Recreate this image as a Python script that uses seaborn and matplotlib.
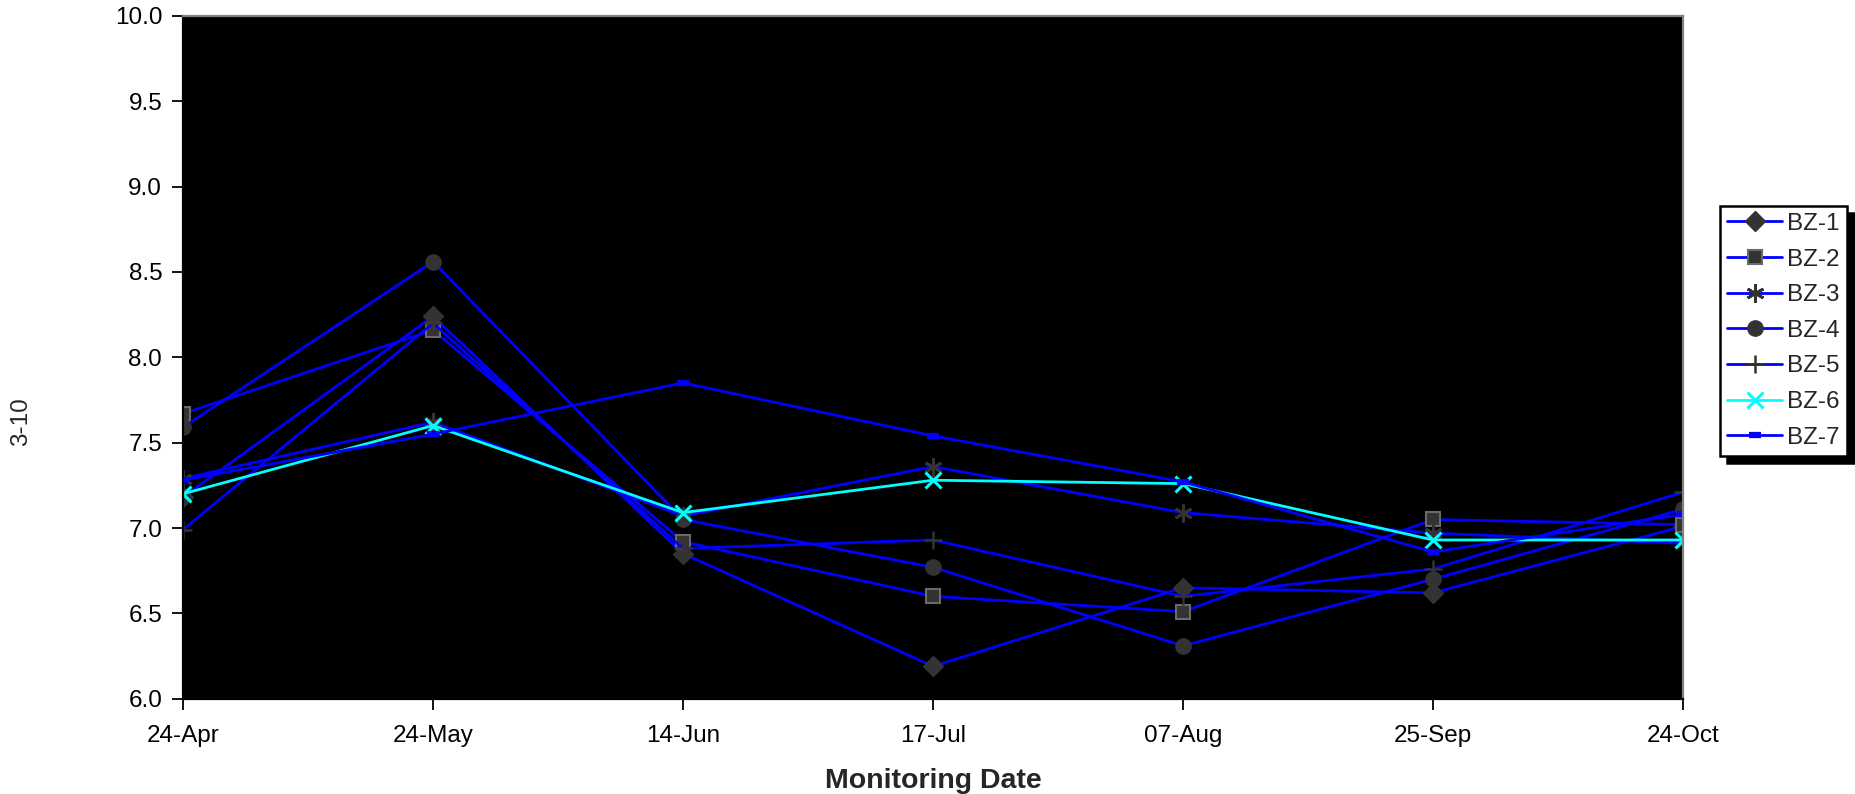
import pandas as pd
import numpy as np
import seaborn as sns
import matplotlib.pyplot as plt

# datos
fechas = ['24-Apr', '24-May', '14-Jun', '17-Jul', '07-Aug', '25-Sep', '24-Oct']
bz1 = [7.18, 8.24, 6.85, 6.19, 6.65, 6.62, 7.01]
bz2 = [7.67, 8.16, 6.92, 6.60, 6.51, 7.05, 7.02]
bz3 = [7.29, 7.62, 7.07, 7.36, 7.09, 6.97, 6.91]
bz4 = [7.59, 8.56, 7.05, 6.77, 6.31, 6.70, 7.11]
bz5 = [6.99, 8.20, 6.88, 6.93, 6.60, 6.76, 7.21]
bz6 = [7.20, 7.60, 7.09, 7.28, 7.26, 6.93, 6.93]
bz7 = [7.28, 7.55, 7.85, 7.54, 7.27, 6.86, 7.08]

series = {'BZ-1': bz1, 'BZ-2': bz2, 'BZ-3': bz3, 'BZ-4': bz4,
          'BZ-5': bz5, 'BZ-6': bz6, 'BZ-7': bz7}

sns.set_theme(style='ticks')
plt.rcParams['font.family'] = ['Liberation Sans', 'DejaVu Sans']

fig = plt.figure(figsize=(18.56, 7.94), dpi=100)
ax = fig.add_axes([0.0986, 0.120, 0.8082, 0.860])
ax.set_facecolor('black')

gris = '#333333'
estilos = {
    'BZ-1': dict(color='blue', marker='D', markersize=10, mfc=gris, mec=gris),
    'BZ-2': dict(color='blue', marker='s', markersize=10, mfc=gris, mec='#6a6a6a', mew=1.5),
    'BZ-3': dict(color='blue', marker=(6, 2, 0), markersize=13, mfc=gris, mec=gris, mew=2),
    'BZ-4': dict(color='blue', marker='o', markersize=11, mfc=gris, mec=gris),
    'BZ-5': dict(color='blue', marker='+', markersize=13, mfc=gris, mec=gris, mew=1.8),
    'BZ-6': dict(color='cyan', marker='x', markersize=12, mfc='cyan', mec='cyan', mew=2.2),
    'BZ-7': dict(color='blue', marker='_', markersize=8, mfc='blue', mec='blue', mew=4.5),
}

for nombre, valores in series.items():
    df = pd.DataFrame({'fecha': fechas, 'valor': valores})
    st = estilos[nombre]
    sns.lineplot(data=df, x='fecha', y='valor', sort=False, ax=ax, color=st['color'],
                 linewidth=2.0, marker=st['marker'], markersize=st['markersize'],
                 markerfacecolor=st['mfc'], markeredgecolor=st['mec'],
                 markeredgewidth=st.get('mew', 1), label=nombre)

ax.set_xlim(0, 6)
ax.set_ylim(6, 10)
ax.set_yticks(np.arange(6, 10.01, 0.5))
ax.set_yticklabels(['%.1f' % v for v in np.arange(6, 10.01, 0.5)])
ax.tick_params(axis='y', direction='out', length=8, width=1.3, colors='black',
               labelsize=17.5, pad=7)
ax.tick_params(axis='x', direction='out', length=8, width=1.3, colors='black',
               labelsize=17.5, pad=11)

for lado in ['left', 'bottom']:
    ax.spines[lado].set_color('black')
for lado in ['top', 'right']:
    ax.spines[lado].set_color('#808080')
for s in ax.spines.values():
    s.set_linewidth(1.6)

ax.set_xlabel('Monitoring Date', fontsize=20.5, fontweight='bold', labelpad=15)
ax.set_ylabel('')
fig.text(21 / 1856, 1 - 422 / 794, '3-10', rotation=90, fontsize=17.5,
         ha='center', va='center')

leg = ax.legend(loc='upper left', bbox_to_anchor=(0.9267, 0.741),
                bbox_transform=fig.transFigure, borderaxespad=0,
                fontsize=17.5, handlelength=2.25, handletextpad=0.2,
                labelspacing=0.56, borderpad=0.3,
                frameon=True, fancybox=False, edgecolor='black',
                shadow={'color': 'black', 'alpha': 1, 'ox': 5, 'oy': -5})
leg.get_frame().set_linewidth(1.8)

plt.savefig('out.png', dpi=100)
